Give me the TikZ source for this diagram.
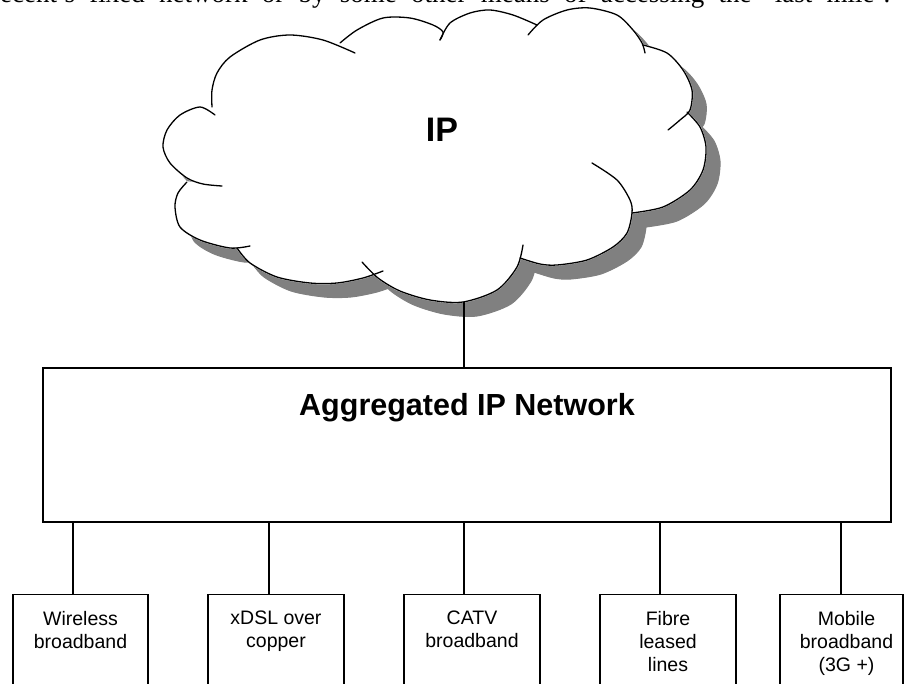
\documentclass[tikz,border=0pt]{standalone}
\usepackage{fontspec}
\setmainfont{Liberation Serif}
\setsansfont{Liberation Sans}
\usetikzlibrary{positioning}

% cloud bumps (px, y down)
\newcommand\bumpA{plot[smooth] coordinates {(215,115) (200,107) (180,115) (167,130) (163,147) (170,163) (187,178) (203,184) (222,186)}}
\newcommand\bumpB{plot[smooth] coordinates {(187,182) (178,193) (175,207) (180,227) (200,240) (230,248) (250,246)}}
\newcommand\bumpC{plot[smooth] coordinates {(237,248) (250,263) (277,277) (310,283) (337,283) (363,278) (383,271)}}
\newcommand\bumpD{plot[smooth] coordinates {(362,262) (378,278) (400,291) (430,300) (463,302) (497,290) (517,267) (523,245)}}
\newcommand\bumpE{plot[smooth] coordinates {(520,258) (540,264) (557,265) (587,260) (613,247) (627,233) (632,213) (630,200) (617,180) (592,163)}}
\newcommand\bumpF{plot[smooth] coordinates {(687,112) (700,127) (706,147) (703,170) (690,190) (663,207) (632,213)}}
\newcommand\bumpG{plot[smooth] coordinates {(643,45) (667,53) (683,70) (692,90) (690,110) (680,120) (668,130)}}
\newcommand\bumpH{plot[smooth] coordinates {(528,35) (543,20) (567,10) (590,8) (617,15) (633,30) (642,43) (645,53)}}
\newcommand\bumpI{plot[smooth] coordinates {(440,40) (450,23) (470,13) (490,10) (513,15) (537,25)}}
\newcommand\bumpJ{plot[smooth] coordinates {(340,43) (357,30) (383,18) (410,18) (433,25) (443,32) (440,40)}}
\newcommand\bumpK{plot[smooth] coordinates {(212,107) (212,90) (217,73) (230,57) (260,40) (290,35) (323,40) (355,53)}}
\newcommand\cloudcore{(212,107) -- (355,53) -- (340,43) -- (440,40) -- (537,25) -- (528,35) -- (645,53) -- (643,45) -- (668,130) -- (687,112) -- (632,213) -- (592,163) -- (520,258) -- (523,245) -- (362,262) -- (383,271) -- (237,248) -- (250,246) -- (187,182) -- (222,186) -- (215,115) -- cycle}

\tikzset{
  netbox/.style={draw, line width=1.2pt, minimum width=848pt, minimum height=154pt},
  accbox/.style={draw, line width=1.2pt, anchor=north, minimum height=120pt},
  acctext/.style={align=center, inner sep=0pt, font=\sffamily\fontsize{19.5}{23}\selectfont},
  cloudline/.style={line width=1.3pt, line cap=round},
}

\begin{document}
\begin{tikzpicture}[x=1pt, y=-1pt]
  \path[use as bounding box, clip] (0,0) rectangle (904,683);
  % Text above (cut off)
  \node[anchor=base west, inner sep=0pt] (intro) at (0,2)
    {\fontsize{27}{32}\selectfont\makebox[890pt][s]{ecent's fixed network or by some other means of accessing the `last mile'.}};
  % Cloud
  \foreach \b in {\bumpA,\bumpB,\bumpC,\bumpD,\bumpE,\bumpF,\bumpG,\bumpH,\bumpI,\bumpJ,\bumpK,\cloudcore}
    \filldraw[gray, line width=1pt, shift={(14,14)}] \b -- cycle;
  \foreach \b in {\bumpA,\bumpB,\bumpC,\bumpD,\bumpE,\bumpF,\bumpG,\bumpH,\bumpI,\bumpJ,\bumpK,\cloudcore}
    \filldraw[white, line width=1.6pt] \b -- cycle;
  \foreach \b in {\bumpA,\bumpB,\bumpC,\bumpD,\bumpE,\bumpF,\bumpG,\bumpH,\bumpI,\bumpJ,\bumpK}
    \draw[cloudline] \b;
  \node[font=\sffamily\bfseries\fontsize{34}{40}\selectfont] (ip) at (442,130) {IP};
  \coordinate (cloudbot) at (464,302);
  % Aggregated network
  \node[netbox] (agg) at (467,445) {};
  \node[below=26pt of agg.north, inner sep=0pt, font=\sffamily\bfseries\fontsize{30.5}{36}\selectfont] (aggtext) {Aggregated IP Network};
  \draw[line width=1.2pt] (cloudbot) -- (cloudbot |- agg.north);
  % Access networks
  \node[accbox, minimum width=135pt] (wl) at (80.5,594) {};
  \node[accbox, minimum width=136pt] (dsl) at (276,594) {};
  \node[accbox, minimum width=136pt] (catv) at (472,594) {};
  \node[accbox, minimum width=136pt] (fib) at (668,594) {};
  \node[accbox, minimum width=123pt] (mob) at (841.5,594) {};
  \node[acctext, below=17pt of wl.north] (wltext) {Wireless\\broadband};
  \node[acctext, below=17pt of dsl.north] (dsltext) {xDSL over\\copper};
  \node[acctext, below=17pt of catv.north] (catvtext) {CATV\\broadband};
  \node[acctext, below=17pt of fib.north] (fibtext) {Fibre\\leased\\lines};
  \node[acctext, below=17pt of mob.north, xshift=5pt] (mobtext) {Mobile\\broadband\\(3G +)};
  \foreach \n/\dx in {wl/-7.5, dsl/-7, catv/-8, fib/-8, mob/-0.5}
    \draw[line width=1.2pt] ([xshift=\dx pt]\n.north) -- ([xshift=\dx pt]\n.north |- agg.south);
\end{tikzpicture}
\end{document}
